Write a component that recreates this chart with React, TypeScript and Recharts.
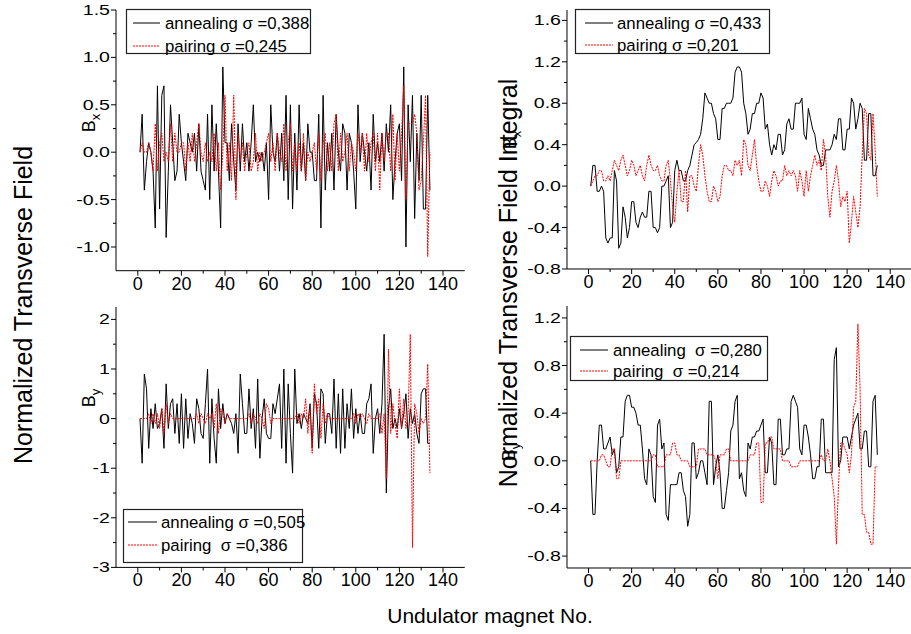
import React from 'react';
import { LineChart, Line, XAxis, YAxis } from 'recharts';

const FONT = '"Liberation Sans", Arial, Helvetica, sans-serif';

// B_x, normalized field (top left)
const bxAnnealing = [
  0, 0.4, -0.4, -0.1, 0.1, 0, -0.2, -0.8, 0.7, -0.6,
  0.6, 0.7, -0.9, -0.2, 0.5, 0.1, -0.3, -0.2, 0.4, 0.1,
  -0.1, -0.3, 0.2, 0.1, 0, 0.2, -0.2, 0.3, -0.2, -0.3,
  -0.4, 0.4, -0.5, 0.5, -0.2, 0.3, -0.2, -0.8, 0.9, 0.1,
  0.1, -0.3, 0.3, -0.1, -0.4, 0.3, -0.2, 0.3, -0.1, 0.1,
  -0.2, 0.1, 0.5, -0.1, 0, -0.1, 0, -0.2, 0.1, -0.5,
  0.5, 0, -0.1, 0.2, -0.2, 0.2, -0.3, 0.6, -0.5, 0.5,
  -0.6, 0.2, -0.4, 0.5, -0.2, 0.1, -0.3, 0.3, 0, 0,
  -0.3, -0.3, 0.4, -0.8, 0.6, -0.4, 0.1, -0.2, 0.2, -0.4,
  0.4, 0, -0.2, 0.3, 0.2, -0.4, 0.2, 0.1, -0.2, -0.6,
  0.5, -0.1, 0.2, 0, -0.2, 0.1, -0.4, 0.4, -0.1, 0.1,
  -0.1, 0.2, -0.2, 0.3, 0, 0.5, -0.5, -0.1, 0.2, 0.3,
  -0.3, 0.9, -1.0, 0.5, -0.1, 0.6, -0.7, 0.2, -0.3, 0.6,
  -0.6, -0.6, 0.6, -0.4,
];
const bxPairing = [
  0, 0.1, 0, 0, 0.1, 0, -0.2, 0.3, -0.2, 0.1,
  0.2, -0.1, 0, -0.1, 0.3, -0.1, 0.2, 0, 0, 0.1,
  0.1, -0.2, 0.1, -0.1, 0.2, -0.1, 0.1, 0.3, 0, -0.1,
  0.1, -0.1, 0, -0.1, 0.2, -0.2, 0.1, -0.4, 0, 0.6,
  -0.2, 0.1, -0.3, 0.6, -0.5, 0.2, -0.1, 0.1, -0.2, 0,
  0.1, -0.2, -0.1, 0.2, -0.2, 0, -0.1, 0, 0.1, 0.2,
  -0.1, 0.1, -0.2, 0.2, 0, -0.1, 0.3, -0.2, 0.1, 0.3,
  -0.2, 0.1, -0.2, 0.1, -0.2, 0.2, -0.3, 0, -0.1, 0,
  0.1, -0.2, 0.2, -0.3, 0.1, 0.2, -0.2, 0.1, -0.2, 0.3,
  0.4, -0.2, 0.2, -0.1, 0, 0.2, -0.2, 0.1, 0, -0.2,
  0.2, 0, 0.2, -0.2, 0.2, -0.1, 0.1, 0.2, -0.2, 0.2,
  -0.4, 0.2, -0.1, 0.2, 0.2, -0.2, 0.4, -0.3, 0.2, -0.2,
  0.2, 0.7, -0.5, 0.3, 0.3, 0.3, 0.4, 0.2, -0.4, -0.3,
  0.1, 0.6, -1.1, 0,
];

// B_x, field integral (top right)
const ixAnnealing = [
  0, 0.2, 0.2, -0.05, -0.05, 0, -0.05, -0.5, -0.55, -0.5,
  -0.5, 0.15, 0.05, -0.6, -0.55, -0.2, -0.3, -0.5, -0.4, -0.15,
  -0.15, -0.35, -0.4, -0.3, -0.25, -0.3, -0.3, -0.05, -0.05, -0.4,
  -0.4, -0.45, -0.4, 0, 0, 0.05, 0.1, -0.4, -0.35, 0.15,
  0.25, 0.15, 0.15, 0.05, 0.05, 0.15, 0.2, 0.3, 0.4, 0.42,
  0.45, 0.5, 0.65, 0.9, 0.85, 0.8, 0.8, 0.7, 0.65, 0.45,
  0.45, 0.75, 0.75, 0.8, 0.8, 0.8, 0.85, 1.1, 1.15, 1.15,
  1.1, 0.8, 0.7, 0.5, 0.55, 0.7, 0.7, 0.8, 0.8, 0.9,
  0.85, 0.55, 0.6, 0.4, 0.3, 0.4, 0.35, 0.5, 0.5, 0.3,
  0.35, 0.6, 0.65, 0.55, 0.55, 0.8, 0.8, 0.8, 0.85, 0.5,
  0.45, 0.75, 0.65, 0.55, 0.5, 0.35, 0.3, 0.2, 0.2, 0.35,
  0.35, 0.35, 0.4, 0.5, 0.45, 0.65, 0.65, 0.35, 0.35, 0.55,
  0.55, 0.85, 0.8, 0.55, 0.65, 0.8, 0.75, 0.25, 0.25, 0.7,
  0.7, 0.1, 0.1, 0.2,
];
const ixPairing = [
  0, 0.05, 0.1, 0.1, 0.15, 0.15, 0.05, 0.05, 0.1, 0.05,
  0.15, 0.25, 0.2, 0.15, 0.25, 0.3, 0.2, 0.1, 0.15, 0.25,
  0.2, 0.1, 0.15, 0.2, 0.1, 0.05, 0.2, 0.3, 0.2, 0.15,
  0.15, 0.2, 0.1, 0.05, 0.05, 0.2, 0.25, 0.05, -0.2, -0.35,
  -0.05, 0.15, -0.15, -0.15, 0.15, -0.25, 0.1, 0.1, 0, -0.05,
  0.2, 0.4, 0.3, 0.1, -0.05, -0.15, -0.15, 0, -0.05, -0.15,
  -0.1, 0.1, 0.2, 0.2, 0.15, 0.15, 0.1, 0.25, 0.2, 0.25,
  0.1, 0.45, 0.4, 0.2, 0.15, 0.3, 0.45, 0.2, 0.05, -0.05,
  -0.05, 0.05, 0, -0.1, 0.05, 0.15, 0.1, 0, 0.05, 0.05,
  0.2, 0.1, 0.15, 0.1, 0.15, 0.1, -0.05, 0.15, 0.05, -0.1,
  0.15, -0.05, 0.1, 0.2, 0.3, 0.2, 0.25, 0.15, 0.45, 0.3,
  -0.1, -0.3, -0.05, 0.05, 0.2, 0.05, -0.2, -0.1, -0.15, -0.05,
  -0.55, -0.35, -0.1, -0.25, -0.4, -0.2, 0.3, 0.75, 0.7, 0.3,
  0.25, 0.7, 0.35, -0.1,
];

// B_y, normalized field (bottom left)
const byAnnealing = [
  0, -0.9, 0.9, 0.6, -0.6, 0.2, -0.2, 0.3, -0.2, -0.1,
  0.2, -0.6, 0.7, -0.2, 0.3, 0.4, -0.3, 0.3, -0.5, 0.5,
  -0.6, 0.4, -0.4, 0.1, -0.1, -0.5, 0.4, 0.2, -0.3, -0.4,
  0.3, 1.0, -0.9, 0.4, -0.4, -0.9, 0.6, -0.2, 0.3, -0.1,
  0.1, 0, -0.1, -0.3, 0.1, -0.7, 0.9, 0.3, -0.3, -0.3,
  0.6, -0.2, 0.2, -0.6, 0.8, -0.8, 0, 0.4, -0.3, -0.4,
  -0.4, 0.3, 0.1, 0.4, 0.7, -0.6, 1.0, -0.9, 0.7, -0.3,
  -1.1, 1.0, -0.1, 0.1, -0.2, 0.1, 0, -0.1, 0.3, -0.6,
  0.5, 0.3, -0.6, 0.6, 0.5, -0.5, 0.1, 0.1, -0.3, 0.8,
  -0.6, 0.5, -0.7, 0.6, -0.6, 0.3, -0.2, 0.6, -0.4, 0.2,
  -0.3, 0.1, -0.3, -0.3, 0.3, 0.4, 0.7, -0.7, 0, 0.2,
  -0.3, 0.3, 1.7, -1.5, 0.2, 0.6, -0.2, 0, -0.2, 0.2,
  -0.2, 0.1, 0.5, -0.4, 0.2, -0.1, 0.1, -0.3, -0.5, 0.5,
  0.6, 0.6, -0.5, -0.5,
];
const byPairing = [
  0, 0, 0, 0, 0.1, -0.1, 0.1, -0.1, 0.1, -0.2,
  0.2, -0.3, 0.3, -0.1, 0.1, 0, 0, 0, 0, 0,
  0, 0, 0, 0, 0, 0, 0.1, -0.1, 0.1, 0,
  -0.1, 0.1, 0, 0.1, -0.2, 0.3, -0.3, 0.2, 0.1, -0.1,
  0.1, 0, 0, 0, 0, 0, 0, 0, 0, 0,
  0.1, -0.1, 0.1, 0, -0.1, 0.1, 0, -0.2, 0.3, 0.2,
  -0.1, 0, 0, 0, 0, 0, 0, 0, 0, 0,
  0, 0, 0.1, -0.1, 0.1, 0, 0.4, -0.3, 0.2, -0.7,
  0.7, 0.1, 0.4, -0.4, 0.3, -0.1, 0.1, 0, 0, 0,
  0, 0, 0, 0, 0, 0, 0, 0, 0.1, -0.1,
  0.1, 0, 0.1, 0, -0.1, 0.1, 0, 0, 0, 0,
  0.1, -0.3, 0.1, -1.2, 1.4, -0.3, 0.3, -0.1, -0.4, 0.6,
  -0.2, 0.4, -0.2, 0.1, 1.7, -2.6, 0.3, 0.1, -0.3, 0,
  -0.1, 0, 1.1, -1.1,
];

// B_y, field integral (bottom right)
const iyAnnealing = [
  0, -0.45, -0.45, 0, 0.3, 0.3, 0.1, 0.1, 0.15, 0.2,
  0.05, 0.1, -0.1, -0.05, 0.2, 0.2, 0.5, 0.55, 0.55, 0.45,
  0.45, 0.4, 0.3, 0.3, 0.1, -0.15, -0.2, 0.1, 0.05, -0.3,
  -0.35, 0.3, 0.35, 0.1, 0.15, -0.45, -0.5, -0.2, -0.2, -0.2,
  -0.2, -0.1, -0.1, -0.25, -0.3, -0.55, -0.45, 0.15, 0.15, -0.15,
  -0.1, 0, 0, -0.1, -0.2, 0.5, 0.5, -0.2, -0.05, 0.05,
  -0.1, -0.4, -0.4, -0.25, -0.1, 0.25, 0.3, 0.5, 0.55, -0.15,
  -0.1, -0.25, -0.3, 0.15, 0.1, 0.2, 0.2, 0.25, 0.25, 0.3,
  0.35, -0.1, -0.1, 0.2, 0.15, -0.2, -0.2, 0.35, 0.35, 0.05,
  0.05, 0.1, 0.1, 0.5, 0.55, 0.5, 0.45, 0.1, 0.05, 0.3,
  0.3, 0.2, 0.05, -0.15, -0.15, -0.05, -0.05, 0.35, 0.35, -0.1,
  -0.1, -0.1, -0.1, 0.85, 0.95, -0.05, 0, 0.2, 0.2, 0.2,
  0.1, 0.2, 0.3, 0.35, 0.4, 0.1, 0.1, 0.25, 0.25, -0.05,
  -0.05, 0.5, 0.55, 0.05,
];
const iyPairing = [
  0, 0, 0, 0, 0, 0.05, 0.05, 0, -0.05, -0.05,
  0.1, 0.1, -0.15, -0.15, 0, 0, 0, 0, 0, 0,
  0, 0, 0, 0, 0, 0, 0, 0, 0, 0.05,
  0.05, -0.05, -0.05, -0.05, -0.05, 0.05, 0.05, 0.05, 0.15, 0.15,
  0.05, 0.05, 0, 0, 0, 0, -0.05, -0.05, -0.05, -0.05,
  0.1, 0.1, 0.1, 0.1, 0.05, 0.05, 0.05, 0.05, 0, -0.15,
  0.05, 0.05, 0.05, 0.1, 0.1, 0, 0, 0, 0, 0,
  0, 0, 0, 0, 0.05, 0.05, 0.05, 0.15, 0.15, -0.35,
  -0.35, 0.15, 0.15, 0.2, 0.2, 0.1, 0.1, 0.1, 0.1, 0,
  0, 0, 0, -0.05, -0.05, -0.05, -0.05, 0, 0, 0,
  0, 0, 0, 0, 0, 0, 0, 0.05, 0, 0,
  0.1, 0, -0.15, -0.3, -0.7, -0.2, 0.15, 0.15, 0.1, 0.05,
  -0.1, 0.05, 0.45, 0.5, 1.15, 0.6, -0.45, -0.45, -0.6, -0.6,
  -0.7, -0.7, -0.05, -0.05,
];

const xTickValues = [0, 10, 20, 30, 40, 50, 60, 70, 80, 90, 100, 110, 120, 130, 140];
const xTickLabels = [0, 20, 40, 60, 80, 100, 120, 140];

const bxMajor = [-1.0, -0.5, 0, 0.5, 1.0, 1.5];
const bxMinor = [-0.75, -0.25, 0.25, 0.75, 1.25];
const ixMajor = [-0.8, -0.4, 0, 0.4, 0.8, 1.2, 1.6];
const ixMinor = [-0.6, -0.2, 0.2, 0.6, 1.0, 1.4];
const byMajor = [-3, -2, -1, 0, 1, 2];
const byMinor = [-2.5, -1.5, -0.5, 0.5, 1.5];
const iyMajor = [-0.8, -0.4, 0, 0.4, 0.8, 1.2];
const iyMinor = [-0.6, -0.2, 0.2, 0.6, 1.0];

const toRows = (a: number[], p: number[]) => a.map((v, i) => ({ n: i + 1, a: v, p: p[i] }));

const XTick = (props: any) => {
  const { x, y, payload } = props;
  const major = xTickLabels.includes(payload.value);
  return (
    <g>
      <line x1={x} x2={x} y1={y} y2={y + (major ? 5 : 3)} stroke="#000" />
      {major && (
        <text x={x} y={y + 19} textAnchor="middle" fontSize={18} fontFamily={FONT} fill="#000">
          {payload.value}
        </text>
      )}
    </g>
  );
};

// the y labels in the original are wide and short, hence the horizontal stretch
const YTick = (props: any) => {
  const { x, y, payload, major, digits } = props;
  const isMajor = major.includes(payload.value);
  return (
    <g>
      <line x1={x} x2={x - (isMajor ? 5 : 3)} y1={y} y2={y} stroke="#000" />
      {isMajor && (
        <text transform={`translate(${x - 6},${y + 5}) scale(1.35,1)`} textAnchor="end" fontSize={14.5} fontFamily={FONT} fill="#000">
          {payload.value.toFixed(digits)}
        </text>
      )}
    </g>
  );
};

function Panel({ px, py, w, h, data, yDomain, major, minor, digits }: any) {
  const mt = 10;
  const mr = 10;
  const yw = 60;
  const xh = 30;
  const ticks = [...major, ...minor].sort((u, v) => u - v);
  return (
    <div style={{ position: 'absolute', left: px - yw, top: py - mt }}>
      <LineChart width={yw + w + mr} height={mt + h + xh} data={data} margin={{ top: mt, right: mr, bottom: 0, left: 0 }}>
        <XAxis
          type="number"
          dataKey="n"
          domain={[-10, 150]}
          ticks={xTickValues}
          interval={0}
          tickSize={0}
          tickMargin={0}
          tickLine={false}
          height={xh}
          stroke="#000"
          allowDataOverflow
          tick={(p: any) => <XTick {...p} />}
        />
        <YAxis
          type="number"
          domain={yDomain}
          ticks={ticks}
          interval={0}
          tickSize={0}
          tickMargin={0}
          tickLine={false}
          width={yw}
          stroke="#000"
          allowDataOverflow
          tick={(p: any) => <YTick {...p} major={major} digits={digits} />}
        />
        <Line type="linear" dataKey="a" stroke="#000" strokeWidth={1} dot={false} isAnimationActive={false} />
        <Line type="linear" dataKey="p" stroke="#ff0000" strokeWidth={1} strokeDasharray="2 1" dot={false} isAnimationActive={false} />
      </LineChart>
    </div>
  );
}

function LegendBox({ left, top, width, height, lineX0, lineX1, textX, rows }: any) {
  return (
    <svg style={{ position: 'absolute', left, top, overflow: 'visible' }} width={width} height={height}>
      <rect x={0.5} y={0.5} width={width - 1} height={height - 1} fill="#fff" stroke="#222" strokeWidth={1.2} />
      {rows.map((r: any, i: number) => (
        <g key={i}>
          <line x1={lineX0} x2={lineX1} y1={r.y} y2={r.y} stroke={i === 0 ? '#000' : '#ff0000'} strokeDasharray={i === 0 ? undefined : '2 1'} />
          <text x={textX} y={r.y + 6} fontSize={16.8} fontFamily={FONT} fill="#000" style={{ whiteSpace: 'pre' }}>
            {r.label}
          </text>
        </g>
      ))}
    </svg>
  );
}

const rotated = (cx: number, cy: number, size: number): React.CSSProperties => ({
  position: 'absolute',
  left: cx,
  top: cy,
  transform: 'translate(-50%, -50%) rotate(-90deg)',
  whiteSpace: 'nowrap',
  fontSize: size,
  fontFamily: FONT,
  color: '#000',
  lineHeight: 1,
});

export default function App() {
  return (
    <div style={{ position: 'absolute', left: 0, top: 0, width: 911, height: 634, overflow: 'hidden', background: '#fff', fontFamily: FONT }}>
      <Panel px={116} py={10} w={348.8} h={260.7} data={toRows(bxAnnealing, bxPairing)} yDomain={[-1.25, 1.5]} major={bxMajor} minor={bxMinor} digits={1} />
      <Panel px={566.7} py={10} w={344.8} h={259} data={toRows(ixAnnealing, ixPairing)} yDomain={[-0.8, 1.7]} major={ixMajor} minor={ixMinor} digits={1} />
      <Panel px={116} py={307} w={348.8} h={260.4} data={toRows(byAnnealing, byPairing)} yDomain={[-3, 2.25]} major={byMajor} minor={byMinor} digits={0} />
      <Panel px={566.7} py={306} w={344.8} h={262} data={toRows(iyAnnealing, iyPairing)} yDomain={[-0.9, 1.3]} major={iyMajor} minor={iyMinor} digits={1} />

      <LegendBox left={126} top={9} width={185} height={45} lineX0={7} lineX1={34} textX={39}
        rows={[{ y: 14, label: 'annealing σ =0,388' }, { y: 37, label: 'pairing σ =0,245' }]} />
      <LegendBox left={575} top={9} width={195} height={45} lineX0={10} lineX1={38} textX={42}
        rows={[{ y: 14, label: 'annealing σ =0,433' }, { y: 36, label: 'pairing σ =0,201' }]} />
      <LegendBox left={123} top={509} width={180} height={54} lineX0={5} lineX1={34} textX={38}
        rows={[{ y: 13, label: 'annealing σ =0,505' }, { y: 36, label: 'pairing  σ =0,386' }]} />
      <LegendBox left={570} top={336} width={198} height={45} lineX0={10} lineX1={38} textX={43}
        rows={[{ y: 14, label: 'annealing  σ =0,280' }, { y: 35, label: 'pairing  σ =0,214' }]} />

      <div style={rotated(91, 123, 18)}>B<sub style={{ fontSize: 13 }}>x</sub></div>
      <div style={rotated(91, 398, 18)}>B<sub style={{ fontSize: 13 }}>y</sub></div>
      <div style={rotated(512, 140, 18)}>B<sub style={{ fontSize: 13 }}>x</sub></div>
      <div style={rotated(511, 452, 18)}>B<sub style={{ fontSize: 13 }}>y</sub></div>

      <div style={rotated(23, 305, 25)}>Normalized Transverse Field</div>
      <div style={rotated(508, 283, 25)}>Normalized Transverse Field Integral</div>
      <div style={{ position: 'absolute', left: 490, top: 615, transform: 'translate(-50%, -50%)', fontSize: 21, whiteSpace: 'nowrap', lineHeight: 1 }}>
        Undulator magnet No.
      </div>
    </div>
  );
}
